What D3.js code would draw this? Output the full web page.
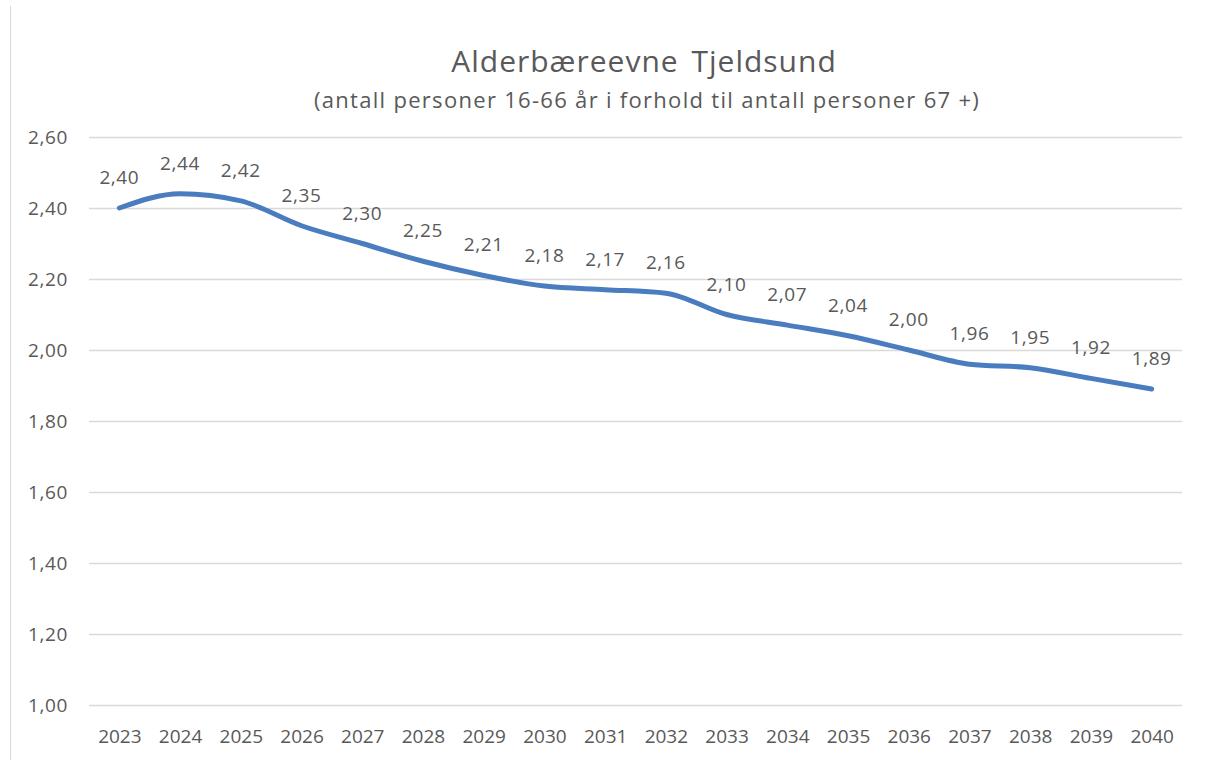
<!DOCTYPE html>
<html><head><meta charset="utf-8">
<script src="https://cdn.jsdelivr.net/npm/d3@7"></script>
<style>body{margin:0;background:#fff;} svg{display:block;}</style>
</head><body>
<svg id="chart" width="1207" height="760"></svg>
<script>
const years = ["2023","2024","2025","2026","2027","2028","2029","2030","2031","2032","2033","2034","2035","2036","2037","2038","2039","2040"];
const values = [2.40,2.44,2.42,2.35,2.30,2.25,2.21,2.18,2.17,2.16,2.10,2.07,2.04,2.00,1.96,1.95,1.92,1.89];
const yTicks = [1.00,1.20,1.40,1.60,1.80,2.00,2.20,2.40,2.60];
const title = "Alderbæreevne Tjeldsund";
const subtitle = "(antall personer 16-66 år i forhold til antall personer 67 +)";

(function(){
const svg = d3.select("#chart");
const font = "'Open Sans', sans-serif";
const textCol = "#595959";
const pL = 89, pR = 1182, pT = 137, pB = 705;
const fs = "19px";

svg.append("line").attr("x1",10.5).attr("x2",10.5).attr("y1",6).attr("y2",760)
  .attr("stroke","#d9d9d9").attr("stroke-width",1);

const x = d3.scalePoint().domain(years).range([pL,pR]).padding(0.5);
const y = d3.scaleLinear().domain([1.0,2.6]).range([pB,pT]);
const fmt = v => d3.format(".2f")(v).replace(".",",");

const yAxis = d3.axisLeft(y).tickValues(yTicks).tickFormat(fmt).tickSize(-(pR-pL)).tickPadding(21);
const gy = svg.append("g").attr("transform",`translate(${pL},0)`).call(yAxis);
gy.select(".domain").remove();
gy.selectAll(".tick line").attr("stroke","#d9d9d9").attr("stroke-width",1.5);
gy.selectAll(".tick text").attr("fill",textCol).style("font-family",font).style("font-size",fs).style("letter-spacing","0.6px");

const xAxis = d3.axisBottom(x).tickSize(0).tickPadding(25);
const gx = svg.append("g").attr("transform",`translate(0,${pB})`).call(xAxis);
gx.select(".domain").remove();
gx.selectAll(".tick text").attr("fill",textCol).style("font-family",font).style("font-size",fs);

const line = d3.line().x((d,i)=>x(years[i])).y(d=>y(d)).curve(d3.curveMonotoneX);
svg.append("path").datum(values).attr("d",line).attr("fill","none")
  .attr("stroke","#4a7cc0").attr("stroke-width",5).attr("stroke-linecap","round").attr("stroke-linejoin","round");

svg.append("g").selectAll("text").data(values).join("text")
  .attr("x",(d,i)=>x(years[i])).attr("y",d=>y(d)-24)
  .attr("text-anchor","middle").attr("fill",textCol)
  .style("font-family",font).style("font-size",fs).style("letter-spacing","0.6px").text(fmt);

svg.append("text").attr("x",644).attr("y",72).attr("text-anchor","middle").attr("fill",textCol)
  .style("font-family",font).style("font-size","30px").style("letter-spacing","1px").style("word-spacing","4px").text(title);
svg.append("text").attr("x",647).attr("y",108).attr("text-anchor","middle").attr("fill",textCol)
  .style("font-family",font).style("font-size","22px").style("letter-spacing","1.3px").text(subtitle);
})();
</script>
</body></html>
